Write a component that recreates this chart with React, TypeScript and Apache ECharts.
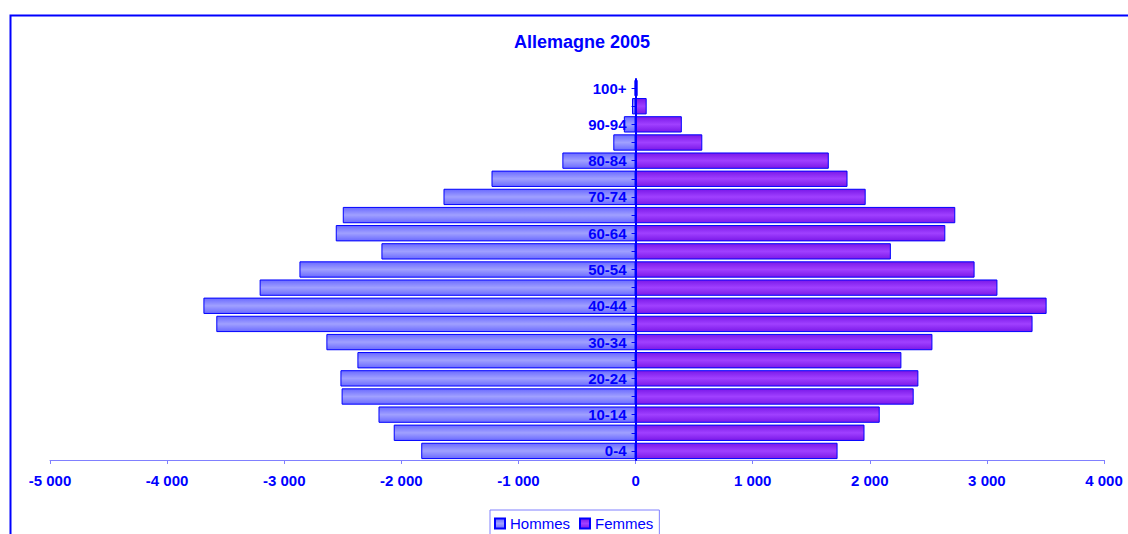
import React, { useEffect, useRef } from "react";
import * as echarts from "echarts";

const categories = [
  "0-4", "5-9", "10-14", "15-19", "20-24", "25-29", "30-34", "35-39", "40-44", "45-49",
  "50-54", "55-59", "60-64", "65-69", "70-74", "75-79", "80-84", "85-89", "90-94", "95-99", "100+",
];
const hommes = [
  -1830, -2065, -2195, -2510, -2520, -2375, -2640, -3580, -3690, -3210,
  -2870, -2170, -2560, -2500, -1640, -1230, -625, -190, -100, -30, -8,
];
const femmes = [
  1725, 1955, 2085, 2375, 2415, 2270, 2535, 3390, 3510, 3090,
  2895, 2180, 2645, 2730, 1965, 1810, 1650, 570, 395, 95, 18,
];
const xTicks = { min: -5000, max: 4000, interval: 1000 };

const FONT = 'Arial, "Liberation Sans", sans-serif';
const BLUE = "#0000ff";

function grad(edge: string, mid: string) {
  return new echarts.graphic.LinearGradient(0, 0, 0, 1, [
    { offset: 0, color: edge },
    { offset: 0.5, color: mid },
    { offset: 1, color: edge },
  ]);
}

export default function App() {
  const ref = useRef<HTMLDivElement>(null);
  useEffect(() => {
    if (!ref.current) return;
    const chart = echarts.init(ref.current, null, { renderer: "svg" });
    const gridLeft = 50;
    const gridRight = 24;
    const plotW = 1128 - gridLeft - gridRight;
    const zeroX = gridLeft + ((0 - xTicks.min) / (xTicks.max - xTicks.min)) * plotW;
    chart.setOption({
      animation: false,
      backgroundColor: "#ffffff",
      title: {
        text: "Allemagne 2005",
        left: 577,
        textAlign: "center",
        top: 28,
        textStyle: { color: BLUE, fontSize: 18, fontWeight: "bold", fontFamily: FONT },
      },
      graphic: [
        {
          type: "rect",
          shape: { x: 10.5, y: 15.5, width: 1200, height: 600 },
          style: { fill: "none", stroke: BLUE, lineWidth: 2 },
          silent: true,
        },
      ],
      legend: {
        left: 490,
        top: 510,
        orient: "horizontal",
        itemWidth: 10,
        itemHeight: 10,
        itemGap: 9,
        icon: "rect",
        padding: [6, 6, 8, 4],
        borderColor: "#8080ff",
        borderWidth: 1,
        textStyle: { color: BLUE, fontSize: 15, fontFamily: FONT },
        data: ["Hommes", "Femmes"],
      },
      grid: { left: gridLeft, right: gridRight, top: 79, bottom: 74, containLabel: false },
      xAxis: {
        type: "value",
        min: xTicks.min,
        max: xTicks.max,
        interval: xTicks.interval,
        splitLine: { show: false },
        axisLine: { show: true, lineStyle: { color: "#8080ff", width: 1 } },
        axisTick: { show: true, length: 4, lineStyle: { color: "#8080ff" } },
        axisLabel: {
          color: BLUE,
          fontSize: 15,
          fontWeight: "bold",
          fontFamily: FONT,
          margin: 13,
          formatter: (v: number) => {
            const s = Math.abs(v).toString().replace(/\B(?=(\d{3})+(?!\d))/g, " ");
            return (v < 0 ? "-" : "") + s;
          },
        },
      },
      yAxis: {
        type: "category",
        data: categories,
        z: 10,
        axisLine: { show: true, onZero: true, lineStyle: { color: BLUE, width: 2 } },
        axisTick: {
          show: true,
          alignWithLabel: true,
          interval: 0,
          length: 4,
          lineStyle: { color: BLUE },
        },
        axisLabel: {
          interval: 1,
          color: BLUE,
          fontSize: 15,
          fontWeight: "bold",
          fontFamily: FONT,
          margin: -(zeroX - gridLeft - 9),
        },
        splitLine: { show: false },
      },
      series: [
        {
          name: "Hommes",
          type: "bar",
          stack: "pop",
          data: hommes,
          barCategoryGap: "10%",
          itemStyle: { color: grad("#6a6aff", "#a0a0ff"), borderColor: BLUE, borderWidth: 1 },
        },
        {
          name: "Femmes",
          type: "bar",
          stack: "pop",
          data: femmes,
          barCategoryGap: "10%",
          itemStyle: { color: grad("#7a18e8", "#a040ff"), borderColor: BLUE, borderWidth: 1 },
        },
      ],
    });
    return () => chart.dispose();
  }, []);
  return (
    <div
      ref={ref}
      style={{ position: "fixed", left: 0, top: 0, width: 1128, height: 534 }}
    />
  );
}
